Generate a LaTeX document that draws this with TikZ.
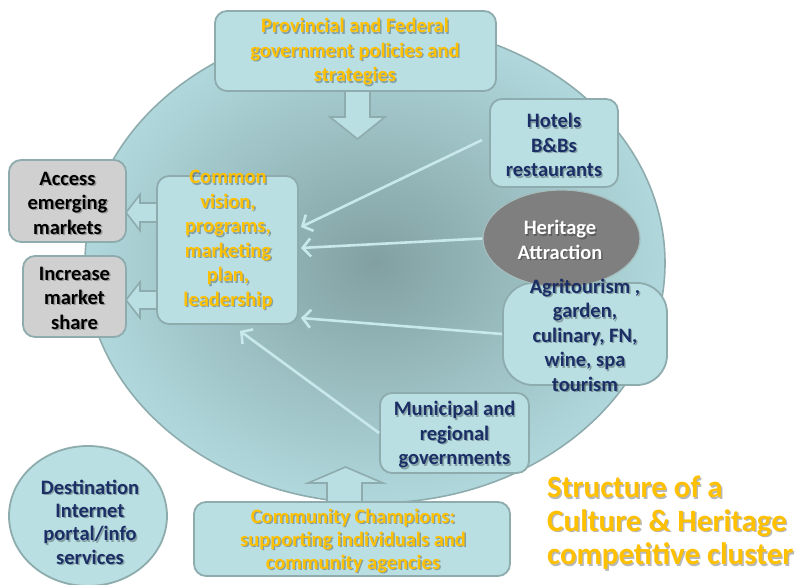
\documentclass[tikz,border=0pt]{standalone}
\usepackage{fontspec}
\setmainfont{Carlito}
\usetikzlibrary{arrows.meta,calc,shapes.geometric}

\definecolor{boxfill}{HTML}{B9DFE3}
\definecolor{boxline}{HTML}{8EABAD}
\definecolor{grayfill}{HTML}{D0D0D0}
\definecolor{gold}{HTML}{FFC000}
\definecolor{navy}{HTML}{1B2F66}
\definecolor{linkc}{HTML}{C8E8EC}
\definecolor{hubin}{HTML}{82A0A2}
\definecolor{hubout}{HTML}{B0D8DC}
\definecolor{attract}{HTML}{7F7F7F}

% text with a soft drop shadow: name, position, style, text
\newcommand{\shtext}[4]{%
  \node[#3, text=black, text opacity=0.28] (#1-sh) at ($(#2)+(1.4,1.4)$) {#4};
  \node[#3] (#1) at (#2) {#4};}

\tikzset{
  card/.style={draw=boxline, fill=boxfill, line width=1.8pt,
    rounded corners=12pt, rectangle, inner sep=0pt},
  graycard/.style={card, fill=grayfill},
  blockarrow/.style={draw=boxline, fill=boxfill, line width=1.6pt,
    line join=miter},
  link/.style={draw=linkc, line width=2.6pt,
    -{Straight Barb[length=8pt,width=18pt]}},
  body/.style={font=\fontsize{20.5}{24.5}\selectfont\bfseries, align=center,
    inner sep=0pt},
  goldtxt/.style={body, text=gold},
  navytxt/.style={body, text=navy},
  blacktxt/.style={body, text=black},
  whitetxt/.style={body, text=white},
}

\begin{document}
\begin{tikzpicture}[x=1pt, y=-1pt]
\useasboundingbox (0,0) rectangle (801,585);

% the cluster
\node[ellipse, draw=boxline, line width=1.6pt, inner color=hubin,
  outer color=hubout, minimum width=580, minimum height=480] (hub) at (375,263) {};

% boxes
\node[card, minimum width=281, minimum height=80] (top) at (355.5,51) {};
\node[card, minimum width=141, minimum height=148] (common) at (227.5,250) {};
\node[graycard, minimum width=117, minimum height=82] (access) at (67.5,201) {};
\node[graycard, minimum width=103, minimum height=81] (increase) at (74.5,296.5) {};
\node[card, minimum width=128, minimum height=88] (hotels) at (554,143) {};
\node[card, rounded corners=30pt, minimum width=164, minimum height=102] (agri) at (585,334) {};
\node[ellipse, draw=boxline!80!white, line width=1.2pt, fill=attract,
  minimum width=157, minimum height=97] (heritage) at (561.5,238.5) {};
\node[card, minimum width=149, minimum height=80] (municipal) at (454.5,433) {};
\node[card, minimum width=316, minimum height=74] (community) at (352,539) {};
\node[ellipse, draw=boxline, line width=1.8pt, fill=boxfill,
  minimum width=158, minimum height=140] (destination) at (88,516) {};

% block arrows
\draw[blockarrow] (345,91) -- (370,91) -- (370,117) -- (385,117) -- (357.5,139)
  -- (330,117) -- (345,117) -- cycle;
\draw[blockarrow] (157,203) -- (140,203) -- (140,194.5) -- (126,212.5)
  -- (140,230.5) -- (140,222) -- (157,222) -- cycle;
\draw[blockarrow] (157,291) -- (140,291) -- (140,282) -- (126,300)
  -- (140,318) -- (140,309) -- (157,309) -- cycle;
\draw[blockarrow] (327,502) -- (327,483) -- (308,483) -- (345.5,467)
  -- (383,483) -- (362,483) -- (362,502) -- cycle;

% links into the common vision
\draw[link] ([xshift=-7pt,yshift=3pt]hotels.west) -- ([xshift=2pt,yshift=23pt]common.east);
\draw[link] (heritage.west) -- ([xshift=2pt,yshift=2pt]common.east);
\draw[link] (agri.west) -- ([xshift=2pt,yshift=-68pt]common.east);
\draw[link] (municipal.west) -- ([xshift=12.5pt,yshift=-6pt]common.south);

% labels
\shtext{t-top}{355,52}{goldtxt}{Provincial and Federal\\government policies and\\strategies}
\shtext{t-common}{228,240}{goldtxt}{Common\\vision,\\programs,\\marketing\\plan,\\leadership}
\shtext{t-access}{67.5,203}{blacktxt}{Access\\emerging\\markets}
\shtext{t-increase}{74.5,298}{blacktxt}{Increase\\market\\share}
\shtext{t-hotels}{554,145}{navytxt}{Hotels\\B\&Bs\\restaurants}
\shtext{t-heritage}{560,240}{whitetxt}{Heritage\\Attraction}
\shtext{t-agri}{585,335}{navytxt}{Agritourism ,\\garden,\\culinary, FN,\\wine, spa\\tourism}
\shtext{t-municipal}{454.5,435}{navytxt}{Municipal and\\regional\\governments}
\shtext{t-community}{353,541}{goldtxt, font=\fontsize{20.5}{23}\selectfont\bfseries}{Community Champions:\\supporting individuals and\\community agencies}
\shtext{t-destination}{90,522}{navytxt, font=\fontsize{20.5}{23.3}\selectfont\bfseries}{Destination\\Internet\\portal/info\\services}
\shtext{t-title}{547,523}{goldtxt, anchor=west, align=left, font=\fontsize{31}{33.5}\selectfont\bfseries}{Structure of a\\Culture \& Heritage\\competitive cluster}
\end{tikzpicture}
\end{document}
